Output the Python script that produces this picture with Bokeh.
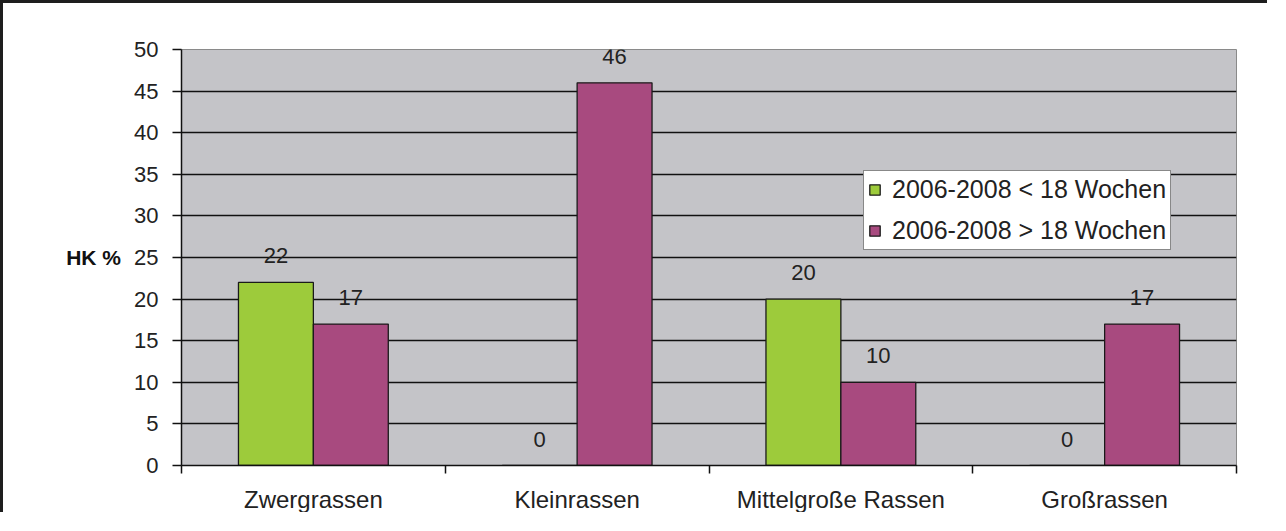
from bokeh.plotting import figure
from bokeh.models import ColumnDataSource, FixedTicker, Legend, LegendItem, Range1d, LabelSet
from bokeh.core.properties import value
from bokeh.embed import file_html
from bokeh.resources import INLINE

categories = ["Zwergrassen", "Kleinrassen", "Mittelgroße Rassen", "Großrassen"]
series_names = ["2006-2008 < 18 Wochen", "2006-2008 > 18 Wochen"]
under18 = [22, 0, 20, 0]
over18 = [17, 46, 10, 17]
y_ticks = [0, 5, 10, 15, 20, 25, 30, 35, 40, 45, 50]

GREEN = "#9dcb3b"
PURPLE = "#a84a7f"
BG = "#c4c4c8"
FONT = "Liberation Sans"
BAR_W = 0.284

centers = [i + 0.5 for i in range(len(categories))]
src_a = ColumnDataSource(dict(x=[c - BAR_W / 2 for c in centers], top=under18,
                              lbl=[str(v) for v in under18]))
src_b = ColumnDataSource(dict(x=[c + BAR_W / 2 for c in centers], top=over18,
                              lbl=[str(v) for v in over18]))

p = figure(width=1267, height=512, output_backend="svg", toolbar_location=None,
           x_range=Range1d(0, len(categories)), y_range=Range1d(0, 50),
           min_border_left=178, min_border_right=34, min_border_top=46, min_border_bottom=50)
p.styles = {"border-left": "3px solid #1e1e1e", "border-top": "3px solid #1e1e1e"}
p.background_fill_color = BG
p.border_fill_color = "white"
p.outline_line_color = "#8a8a8a"
p.outline_line_width = 1

ra = p.vbar(x="x", top="top", bottom=0, width=BAR_W, source=src_a,
            fill_color=GREEN, line_color="#1a1a1a", line_width=1.3)
rb = p.vbar(x="x", top="top", bottom=0, width=BAR_W, source=src_b,
            fill_color=PURPLE, line_color="#1a1a1a", line_width=1.3)

for s in (src_a, src_b):
    p.add_layout(LabelSet(x="x", y="top", text="lbl", source=s, text_align="center",
                          text_baseline="bottom", y_offset=19, text_font=value(FONT),
                          text_font_size="22px", text_color="#222222"))

# y axis
p.yaxis.ticker = FixedTicker(ticks=y_ticks)
p.yaxis.axis_label = "HK %"
p.yaxis.axis_label_orientation = "horizontal"
p.yaxis.axis_label_text_font = FONT
p.yaxis.axis_label_text_font_style = "bold"
p.yaxis.axis_label_text_font_size = "21px"
p.yaxis.axis_label_text_color = "#111111"
p.yaxis.axis_label_standoff = 10
p.yaxis.major_label_text_font = FONT
p.yaxis.major_label_text_font_size = "22px"
p.yaxis.major_label_text_color = "#222222"
p.yaxis.major_tick_out = 9
p.yaxis.major_tick_in = 0
p.yaxis.major_label_standoff = 14
p.yaxis.minor_tick_line_color = None
p.yaxis.axis_line_color = "#111111"
p.yaxis.axis_line_width = 1.5
p.yaxis.major_tick_line_color = "#111111"
p.yaxis.major_tick_line_width = 1.5

# x axis
p.xaxis.ticker = FixedTicker(ticks=centers, minor_ticks=list(range(len(categories) + 1)))
p.xaxis.major_label_overrides = {c: name for c, name in zip(centers, categories)}
p.xaxis.major_tick_line_color = None
p.xaxis.major_tick_out = 0
p.xaxis.major_tick_in = 0
p.xaxis.minor_tick_out = 8
p.xaxis.minor_tick_in = 0
p.xaxis.minor_tick_line_color = "#111111"
p.xaxis.minor_tick_line_width = 1.5
p.xaxis.major_label_standoff = 12
p.xaxis.major_label_text_font = FONT
p.xaxis.major_label_text_font_size = "24px"
p.xaxis.major_label_text_color = "#222222"
p.xaxis.axis_line_color = "#111111"
p.xaxis.axis_line_width = 1.5

p.xgrid.grid_line_color = None
p.ygrid.ticker = FixedTicker(ticks=y_ticks[1:-1])
p.ygrid.grid_line_color = "#111111"
p.ygrid.grid_line_width = 1.5

legend = Legend(items=[LegendItem(label=series_names[0], renderers=[ra]),
                       LegendItem(label=series_names[1], renderers=[rb])],
                location=(682, 215))
legend.background_fill_color = "white"
legend.background_fill_alpha = 1
legend.border_line_color = "#111111"
legend.border_line_width = 1.5
legend.label_text_font = FONT
legend.label_text_font_size = "25px"
legend.label_text_color = "#222222"
legend.glyph_width = 13
legend.glyph_height = 13
legend.label_standoff = 11
legend.padding = 4
legend.spacing = 12
legend.label_height = 26
legend.margin = 0
p.add_layout(legend)

open("out.html", "w").write(file_html(p, INLINE))
